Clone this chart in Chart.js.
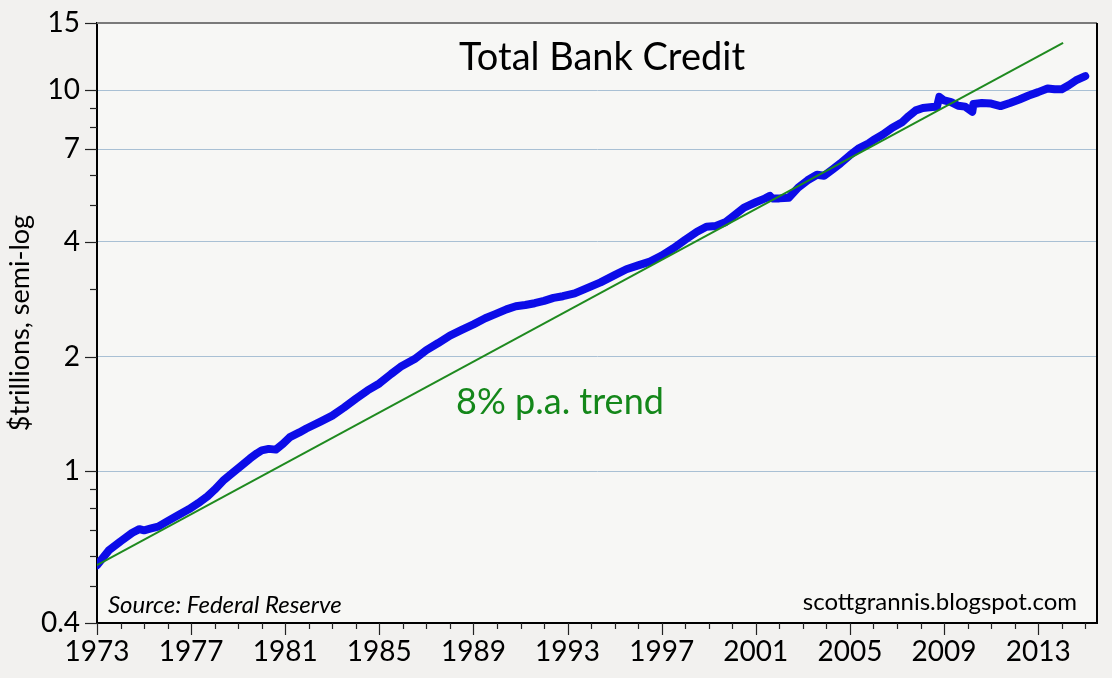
<!DOCTYPE html>
<html>
<head>
<meta charset="utf-8">
<script src="https://cdn.jsdelivr.net/npm/chart.js@4.4.1/dist/chart.umd.min.js"></script>
<style>
  html, body { margin: 0; padding: 0; background: #f2f1ef; }
  #wrap { width: 1112px; height: 678px; }
</style>
</head>
<body>
<div id="wrap"><canvas id="bankChart" width="1112" height="678"></canvas></div>
<script>
// total bank credit, $ trillions
const creditYears = [
  1973.0, 1973.5, 1974.0, 1974.5, 1974.8, 1975.0, 1975.3, 1975.6, 1976.0, 1976.5,
  1976.9, 1977.3, 1977.7, 1978.0, 1978.4, 1978.8, 1979.1, 1979.5, 1979.8, 1980.0,
  1980.3, 1980.6, 1980.9, 1981.2, 1981.6, 1981.9, 1982.5, 1983.0, 1983.5, 1984.0,
  1984.5, 1985.0, 1985.5, 1985.9, 1986.5, 1987.0, 1987.5, 1988.0, 1988.5, 1989.0,
  1989.5, 1989.9, 1990.4, 1990.8, 1991.2, 1991.6, 1992.0, 1992.4, 1992.8, 1993.3,
  1993.8, 1994.4, 1995.0, 1995.5, 1996.0, 1996.5, 1997.0, 1997.5, 1998.0, 1998.5,
  1998.9, 1999.3, 1999.7, 2000.0, 2000.5, 2001.0, 2001.4, 2001.6, 2001.7, 2002.0,
  2002.4, 2002.8, 2003.2, 2003.6, 2003.9, 2004.3, 2004.6, 2005.0, 2005.4, 2005.8,
  2006.0, 2006.4, 2006.8, 2007.2, 2007.5, 2007.8, 2008.1, 2008.5, 2008.7, 2008.8,
  2009.0, 2009.3, 2009.6, 2009.9, 2010.2, 2010.25, 2010.6, 2011.0, 2011.4, 2011.8,
  2012.2, 2012.6, 2013.0, 2013.4, 2013.7, 2014.0, 2014.3, 2014.6, 2015.0
];
const creditValues = [
  0.567, 0.620, 0.655, 0.690, 0.705, 0.700, 0.708, 0.716, 0.740, 0.770,
  0.795, 0.825, 0.860, 0.895, 0.950, 0.995, 1.03, 1.08, 1.115, 1.135,
  1.145, 1.14, 1.18, 1.23, 1.265, 1.295, 1.35, 1.40, 1.47, 1.55,
  1.63, 1.70, 1.80, 1.88, 1.97, 2.08, 2.17, 2.27, 2.35, 2.43,
  2.52, 2.58, 2.66, 2.71, 2.73, 2.76, 2.80, 2.85, 2.88, 2.93,
  3.02, 3.13, 3.27, 3.39, 3.47, 3.55, 3.68, 3.85, 4.05, 4.25,
  4.38, 4.40, 4.50, 4.65, 4.92, 5.08, 5.20, 5.28, 5.20, 5.20,
  5.22, 5.55, 5.80, 6.00, 5.96, 6.22, 6.43, 6.75, 7.05, 7.25,
  7.40, 7.65, 7.97, 8.22, 8.55, 8.85, 8.98, 9.03, 9.05, 9.60,
  9.40, 9.30, 9.10, 9.05, 8.78, 9.20, 9.25, 9.22, 9.08, 9.25,
  9.45, 9.68, 9.88, 10.10, 10.05, 10.05, 10.30, 10.60, 10.88
];

// 8% p.a. trend line, two ends
const trendYears = [1973.0, 2014.06];
const trendValues = [0.567, 13.3];

const yTickValues = [0.4, 0.5, 0.6, 0.7, 0.8, 0.9, 1, 2, 3, 4, 5, 6, 7, 8, 9, 10, 15];
const yLabelled = [0.4, 1, 2, 4, 7, 10, 15];
const yGridValues = [1, 2, 4, 7, 10];
const xFirstYear = 1973;
const xLastTick = 2015;

const FONT = "Lato, 'Liberation Sans', sans-serif";

const chartDecor = {
  id: "chartDecor",
  beforeDraw(chart) {
    const { ctx, chartArea: a } = chart;
    ctx.save();
    ctx.fillStyle = "#f2f1ef";
    ctx.fillRect(0, 0, chart.width, chart.height);
    ctx.fillStyle = "#f7f7f5";
    ctx.fillRect(a.left, a.top, a.right - a.left, a.bottom - a.top);
    ctx.restore();
  },
  afterDraw(chart) {
    const { ctx, chartArea: a } = chart;
    const xs = chart.scales.x, ys = chart.scales.y;
    ctx.save();
    // frame top/right
    ctx.lineWidth = 2;
    ctx.strokeStyle = "#7a7a7a";
    ctx.beginPath();
    ctx.moveTo(a.left, a.top);
    ctx.lineTo(a.right, a.top);
    ctx.stroke();
    ctx.strokeStyle = "#000";
    ctx.beginPath();
    ctx.moveTo(a.right, a.top);
    ctx.lineTo(a.right, a.bottom);
    ctx.stroke();

    // tick marks
    ctx.lineWidth = 1.2;
    ctx.strokeStyle = "#222";
    yTickValues.forEach((v) => {
      const y = Math.round(ys.getPixelForValue(v)) + 0.5;
      const len = yLabelled.includes(v) ? 12 : 7;
      ctx.beginPath();
      ctx.moveTo(a.left - len, y);
      ctx.lineTo(a.left, y);
      ctx.stroke();
    });
    for (let yr = xFirstYear; yr <= xLastTick; yr++) {
      const x = Math.round(xs.getPixelForValue(yr)) + 0.5;
      const len = (yr - xFirstYear) % 4 === 0 ? 12 : 6;
      ctx.beginPath();
      ctx.moveTo(x, a.bottom);
      ctx.lineTo(x, a.bottom + len);
      ctx.stroke();
    }

    // texts
    ctx.fillStyle = "#000";
    ctx.textBaseline = "alphabetic";
    ctx.textAlign = "center";
    ctx.font = "38px " + FONT;
    ctx.fillText("Total Bank Credit", 602, 70);

    ctx.fillStyle = "#14871a";
    ctx.font = "36px " + FONT;
    ctx.fillText("8% p.a. trend", 560, 414);

    ctx.fillStyle = "#000";
    ctx.textAlign = "left";
    ctx.font = "italic 24px " + FONT;
    ctx.fillText("Source: Federal Reserve", 108, 613);

    ctx.textAlign = "right";
    ctx.font = "24px " + FONT;
    ctx.fillText("scottgrannis.blogspot.com", 1077, 610);
    ctx.restore();
  },
};

const data = {
  datasets: [
    {
      label: "8% p.a. trend",
      data: trendYears.map((x, i) => ({ x: x, y: trendValues[i] })),
      borderColor: "#1f8a1f",
      borderWidth: 2,
      pointRadius: 0,
      order: 0,
    },
    {
      label: "Total Bank Credit",
      data: creditYears.map((x, i) => ({ x: x, y: creditValues[i] })),
      borderColor: "#0c0ce8",
      borderWidth: 8,
      borderCapStyle: "round",
      borderJoinStyle: "round",
      pointRadius: 0,
      order: 1,
    },
  ],
};

const config = {
  type: "line",
  data: data,
  plugins: [chartDecor],
  options: {
    responsive: false,
    animation: false,
    devicePixelRatio: 1,
    layout: { padding: { top: 23, right: 15, left: 0, bottom: 0 } },
    plugins: { legend: { display: false }, tooltip: { enabled: false } },
    scales: {
      x: {
        type: "linear",
        min: 1973,
        max: 2015.5,
        afterBuildTicks: (scale) => {
          const t = [];
          for (let yr = xFirstYear; yr <= xLastTick; yr++) t.push({ value: yr });
          scale.ticks = t;
        },
        afterFit: (scale) => {
          scale.height = 55;
          scale.paddingLeft = 0;
          scale.paddingRight = 0;
        },
        grid: { display: false },
        border: { display: true, color: "#000", width: 2 },
        ticks: {
          autoSkip: false,
          maxRotation: 0,
          padding: 4,
          color: "#000",
          font: { family: FONT, size: 28 },
          callback: (v) => ((v - xFirstYear) % 4 === 0 ? String(v) : ""),
        },
      },
      y: {
        type: "logarithmic",
        min: 0.4,
        max: 15,
        afterBuildTicks: (scale) => {
          scale.ticks = yTickValues.map((v) => ({ value: v }));
        },
        afterFit: (scale) => {
          scale.width = 97;
          scale.paddingTop = 0;
          scale.paddingBottom = 0;
        },
        grid: {
          drawTicks: false,
          lineWidth: 1,
          color: (c) => (c.tick && yGridValues.includes(c.tick.value) ? "#a9c0d4" : "transparent"),
        },
        border: { display: true, color: "#000", width: 2 },
        title: {
          display: true,
          text: "$trillions, semi-log",
          color: "#000",
          font: { family: FONT, size: 27 },
          padding: { top: 4, bottom: 0 },
        },
        ticks: {
          autoSkip: false,
          padding: 17,
          color: "#000",
          font: { family: FONT, size: 28 },
          callback: (v) => (yLabelled.includes(v) ? String(v) : ""),
        },
      },
    },
  },
};

const bankChart = new Chart(document.getElementById("bankChart"), config);
</script>
</body>
</html>
